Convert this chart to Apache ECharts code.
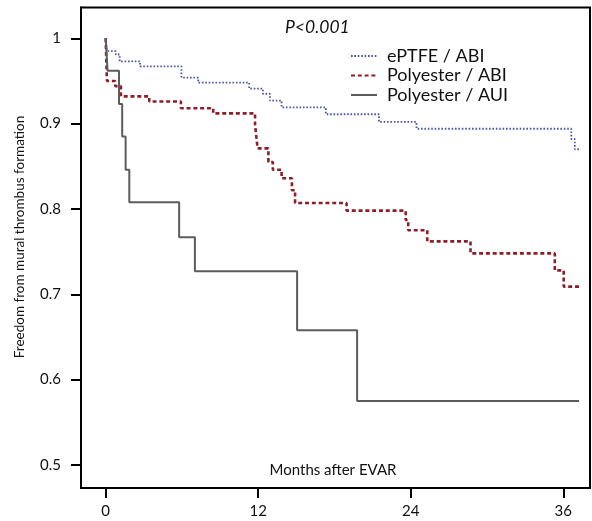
<!DOCTYPE html>
<html>
<head>
<meta charset="utf-8">
<script src="https://cdn.jsdelivr.net/npm/echarts@6/dist/echarts.min.js"></script>
<style>
    html, body { margin: 0; padding: 0; background: #fff; }
    #chart { width: 592px; height: 521px; }
</style>
</head>
<body>
<div id="chart"></div>
<script>
    // Kaplan-Meier steps (months after EVAR, freedom)
    let eptfeAbiMonths = [0, 0.1, 0.8, 1.1, 2.7, 5.96, 7.28, 11.29, 12.37, 12.92, 13.84, 17.32, 21.5, 24.45, 36.63, 36.9, 37.37];
    let eptfeAbiValues = [1, 0.985, 0.981, 0.973, 0.967, 0.954, 0.948, 0.941, 0.935, 0.927, 0.919, 0.911, 0.902, 0.894, 0.882, 0.870, 0.870];

    let polyAbiMonths = [0, 0.1, 0.75, 1.2, 3.43, 5.92, 8.46, 11.75, 11.85, 11.95, 12.8, 13.15, 13.84, 14.65, 14.9, 18.95, 23.6, 23.8, 25.3, 28.7, 35.33, 36.03, 37.29];
    let polyAbiValues = [1, 0.950, 0.944, 0.932, 0.926, 0.918, 0.912, 0.899, 0.885, 0.871, 0.855, 0.846, 0.836, 0.822, 0.807, 0.798, 0.787, 0.775, 0.762, 0.748, 0.728, 0.709, 0.709];

    let polyAuiMonths = [0, 0.15, 1.05, 1.3, 1.57, 1.86, 5.78, 7.02, 15.06, 19.78, 37.24];
    let polyAuiValues = [1, 0.962, 0.923, 0.885, 0.846, 0.808, 0.767, 0.727, 0.658, 0.575, 0.575];

    let seriesNames = ['ePTFE / ABI', 'Polyester / ABI', 'Polyester / AUI'];

    let xTicks = [0, 12, 24, 36];
    let yTicks = [0.5, 0.6, 0.7, 0.8, 0.9, 1];

    function zip(xs, ys) {
        let res = [];
        for (let i = 0; i < xs.length; i++) {
            res.push([xs[i], ys[i]]);
        }
        return res;
    }

    let font = 'Lato';

    let myChart = echarts.init(document.getElementById('chart'));

    let option = {
        animation: false,
        backgroundColor: '#fff',
        grid: {
            left: 81,
            right: 2,
            top: 7.5,
            bottom: 33,
            show: true,
            borderColor: '#000',
            borderWidth: 2
        },
        legend: {
            orient: 'vertical',
            left: 345,
            top: 42,
            itemWidth: 26,
            itemHeight: 14,
            itemGap: 1.5,
            data: seriesNames,
            itemStyle: { opacity: 0 },
            textStyle: {
                fontFamily: font,
                fontSize: 18,
                lineHeight: 18,
                color: '#111',
                padding: [0, 0, 0, 5]
            }
        },
        xAxis: {
            type: 'value',
            min: -1.94,
            max: 38.1,
            splitLine: { show: false },
            axisLine: { show: true, onZero: false, lineStyle: { color: '#000', width: 2 } },
            axisTick: {
                show: true,
                length: 10,
                customValues: xTicks,
                lineStyle: { color: '#000', width: 2 }
            },
            axisLabel: {
                customValues: xTicks,
                margin: 16,
                fontFamily: font,
                fontSize: 15,
                color: '#111'
            }
        },
        yAxis: {
            type: 'value',
            min: 0.473,
            max: 1.0361,
            splitLine: { show: false },
            axisLine: { show: true, onZero: false, lineStyle: { color: '#000', width: 2 } },
            axisTick: {
                show: true,
                length: 10,
                customValues: yTicks,
                lineStyle: { color: '#000', width: 2 }
            },
            axisLabel: {
                customValues: yTicks,
                margin: 20,
                fontFamily: font,
                fontSize: 15,
                color: '#111',
                formatter: function (v) {
                    return String(v);
                }
            }
        },
        graphic: [
            {
                type: 'text',
                x: 20,
                y: 237,
                rotation: Math.PI / 2,
                style: {
                    text: 'Freedom from mural thrombus formation',
                    fontFamily: font,
                    fontSize: 13.5,
                    fill: '#111',
                    textAlign: 'center',
                    textVerticalAlign: 'middle'
                }
            },
            {
                type: 'text',
                x: 333,
                y: 470,
                style: {
                    text: 'Months after EVAR',
                    fontFamily: font,
                    fontSize: 15,
                    fill: '#111',
                    textAlign: 'center',
                    textVerticalAlign: 'middle'
                }
            },
            {
                type: 'text',
                x: 285,
                y: 27,
                style: {
                    text: 'P<0.001',
                    fontFamily: font,
                    fontStyle: 'italic',
                    fontSize: 17.5,
                    fill: '#111',
                    textAlign: 'left',
                    textVerticalAlign: 'middle'
                }
            }
        ],
        series: [
            {
                name: seriesNames[0],
                type: 'line',
                step: 'end',
                symbol: 'none',
                color: '#4b54aa',
                lineStyle: { color: '#4b54aa', width: 1.8, type: [1.6, 1.8] },
                data: zip(eptfeAbiMonths, eptfeAbiValues)
            },
            {
                name: seriesNames[1],
                type: 'line',
                step: 'end',
                symbol: 'none',
                color: '#8c1f28',
                lineStyle: { color: '#8c1f28', width: 2.6, type: [4, 2.8] },
                data: zip(polyAbiMonths, polyAbiValues)
            },
            {
                name: seriesNames[2],
                type: 'line',
                step: 'end',
                symbol: 'none',
                color: '#5c5c5c',
                lineStyle: { color: '#5c5c5c', width: 2 },
                data: zip(polyAuiMonths, polyAuiValues)
            }
        ]
    };

    myChart.setOption(option);
</script>
</body>
</html>
